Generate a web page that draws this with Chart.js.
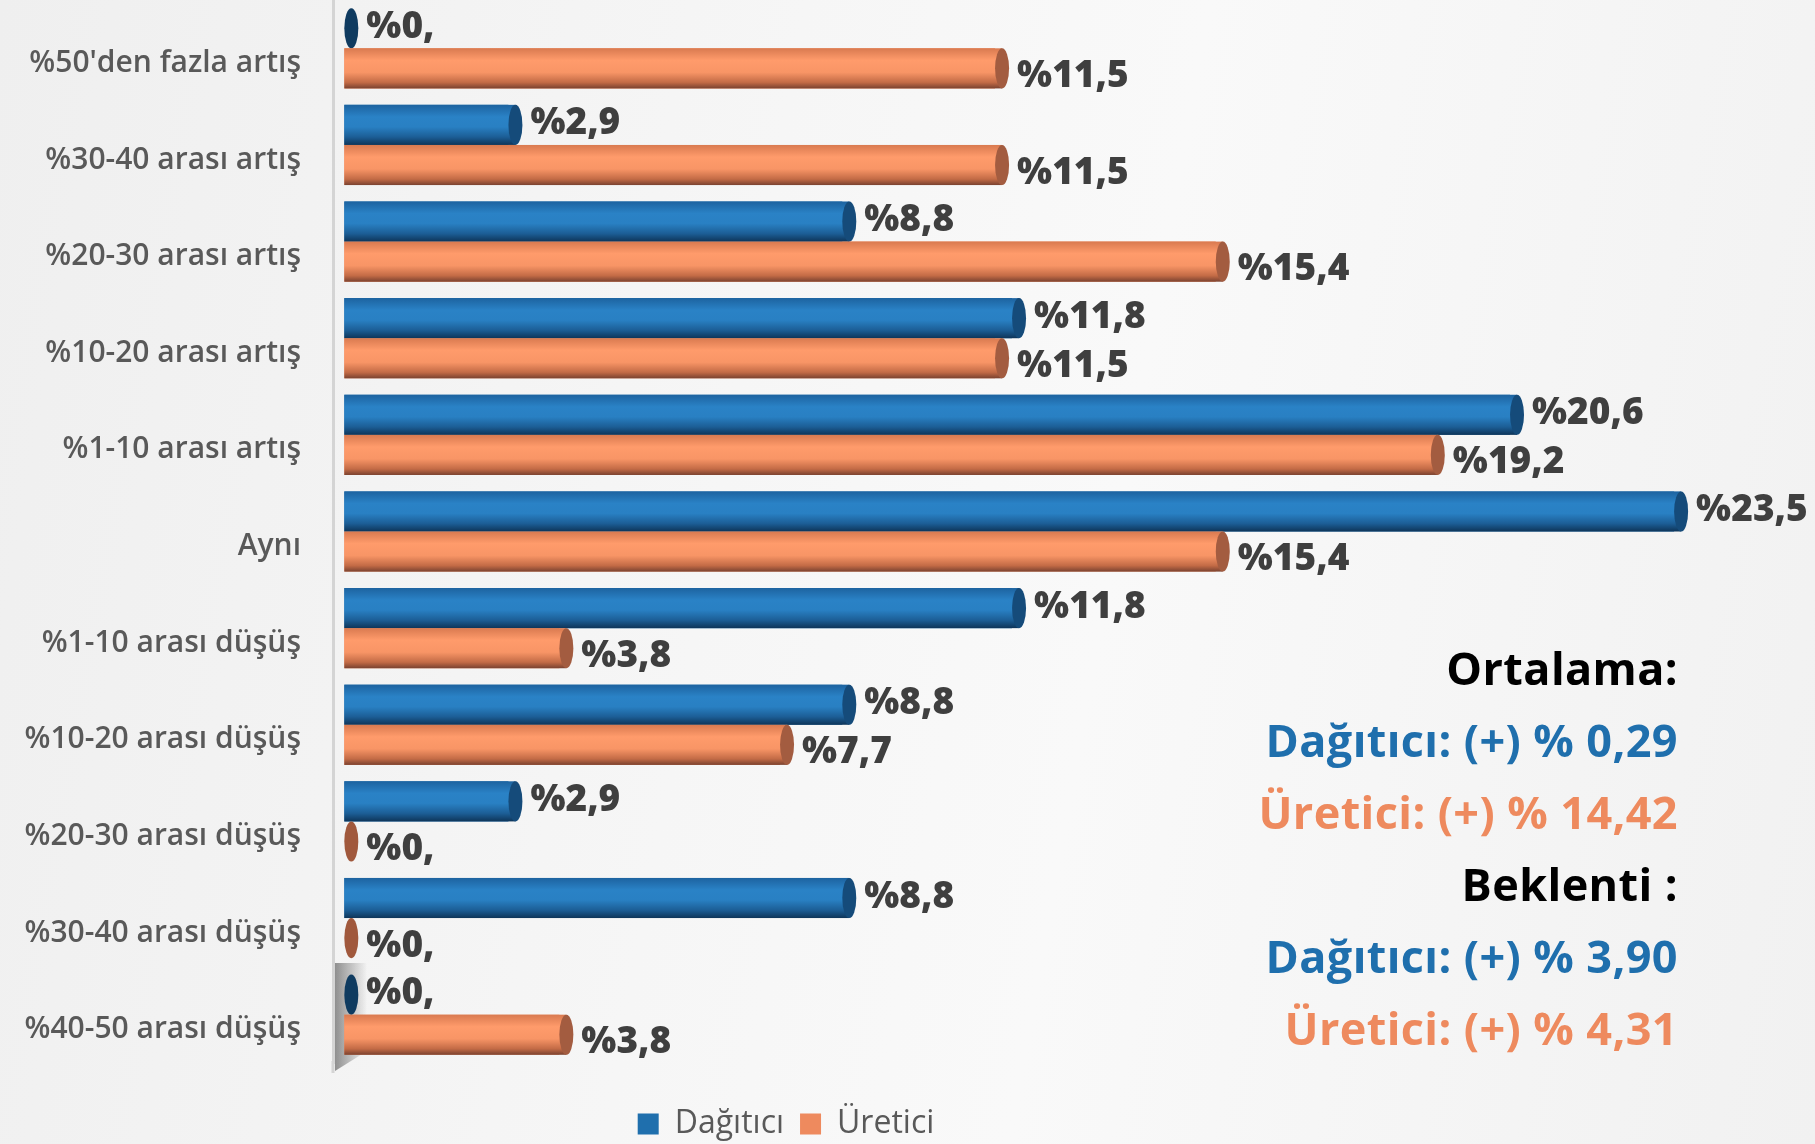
<!DOCTYPE html>
<html lang="tr">
<head>
<meta charset="utf-8">
<script src="https://cdn.jsdelivr.net/npm/chart.js@4.4.1/dist/chart.umd.min.js"></script>
<style>
    html, body { margin: 0; padding: 0; }
    body {
        width: 1815px;
        height: 1144px;
        overflow: hidden;
        background: linear-gradient(100deg, #efefef 0%, #f6f6f6 40%, #f9f9f9 60%, #f1f1f1 100%);
        font-family: "Open Sans", sans-serif;
    }
    #kutu { position: relative; width: 1815px; height: 1144px; }
    .ozet {
        position: absolute;
        right: 137px;
        top: 632px;
        text-align: right;
        font-weight: 700;
        font-size: 45px;
        line-height: 72px;
        letter-spacing: 0.4px;
    }
    .baslik { color: #000; }
    .mavi { color: #1f6fad; }
    .turuncu { color: #ee8a5e; }
</style>
</head>
<body>
<div id="kutu">
    <canvas id="grafik"></canvas>
    <div class="ozet">
        <div class="baslik">Ortalama:</div>
        <div class="mavi">Dağıtıcı: (+) % 0,29</div>
        <div class="turuncu">Üretici: (+) % 14,42</div>
        <div class="baslik">Beklenti :</div>
        <div class="mavi">Dağıtıcı: (+) % 3,90</div>
        <div class="turuncu">Üretici: (+) % 4,31</div>
    </div>
</div>
<script>
const kategoriler = [
    "%50'den fazla artış",
    "%30-40 arası artış",
    "%20-30 arası artış",
    "%10-20 arası artış",
    "%1-10 arası artış",
    "Aynı",
    "%1-10 arası düşüş",
    "%10-20 arası düşüş",
    "%20-30 arası düşüş",
    "%30-40 arası düşüş",
    "%40-50 arası düşüş"
];
const dagitici = [0, 2.9, 8.8, 11.8, 20.6, 23.5, 11.8, 8.8, 2.9, 8.8, 0];
const uretici = [11.5, 11.5, 15.4, 11.5, 19.2, 15.4, 3.8, 7.7, 0, 0, 3.8];

// renk tonlari: govde gradyani (ustten alta) ve uc kapagi
const tonlar = [
    {
        duz: "#1f6fad",
        govde: [[0, "#1d63a0"], [0.3, "#2a82c6"], [0.55, "#2980c3"], [0.8, "#1c5e96"], [1, "#0e3559"]],
        kapak: "#154b7a",
        sifir: "#0f3b60"
    },
    {
        duz: "#ee8a5e",
        govde: [[0, "#d97a50"], [0.3, "#ff9b6b"], [0.6, "#f89566"], [0.85, "#c36b46"], [1, "#7a4230"]],
        kapak: "#a35c40",
        sifir: "#a0583c"
    }
];
const etiketKayma = [-1, 8];

function formatla(v) {
    if (v === 0) return "%0,";
    return "%" + v.toFixed(1).replace(".", ",");
}

// sol alt kosedeki 3B zemin golgesi
const zeminGolgesi = {
    id: "zeminGolgesi",
    beforeDatasetsDraw(chart) {
        const { ctx, chartArea } = chart;
        const x0 = chartArea.left + 2;
        const alt = chartArea.bottom;
        ctx.save();
        const g = ctx.createLinearGradient(x0, 0, x0 + 32, 0);
        g.addColorStop(0, "rgba(60,60,60,0.55)");
        g.addColorStop(1, "rgba(60,60,60,0)");
        ctx.fillStyle = g;
        ctx.beginPath();
        ctx.moveTo(x0, alt - 100);
        ctx.lineTo(x0 + 32, alt - 100);
        ctx.lineTo(x0 + 32, alt - 12);
        ctx.lineTo(x0, alt + 8);
        ctx.closePath();
        ctx.fill();
        ctx.fillStyle = "#d4d4d4";
        ctx.fillRect(chartArea.left - 1.5, alt - 2, 3, 12);
        ctx.restore();
    }
};

const silindir = {
    id: "silindir",
    afterDatasetsDraw(chart) {
        const ctx = chart.ctx;
        chart.data.datasets.forEach((ds, i) => {
            const meta = chart.getDatasetMeta(i);
            const ton = tonlar[i];
            meta.data.forEach((bar, j) => {
                const { x, y, base, height } = bar.getProps(["x", "y", "base", "height"], true);
                const ust = y - height / 2;
                const alt = y + height / 2;
                const rx = 7;
                const son = x + rx;
                ctx.save();
                if (ds.data[j] > 0) {
                    const g = ctx.createLinearGradient(0, ust, 0, alt);
                    ton.govde.forEach(([p, c]) => g.addColorStop(p, c));
                    ctx.fillStyle = g;
                    ctx.fillRect(base, ust, son - base, height);
                    ctx.fillStyle = ton.kapak;
                } else {
                    ctx.fillStyle = ton.sifir;
                }
                ctx.beginPath();
                ctx.ellipse(son, y, rx, height / 2, 0, 0, Math.PI * 2);
                ctx.fill();
                ctx.restore();
            });
        });
    }
};

const degerEtiketleri = {
    id: "degerEtiketleri",
    afterDatasetsDraw(chart) {
        const ctx = chart.ctx;
        ctx.save();
        ctx.font = '800 37px "Open Sans"';
        ctx.fillStyle = "#3f3f3f";
        ctx.textBaseline = "middle";
        ctx.textAlign = "left";
        chart.data.datasets.forEach((ds, i) => {
            chart.getDatasetMeta(i).data.forEach((bar, j) => {
                ctx.fillText(formatla(ds.data[j]), bar.x + 22, bar.y + etiketKayma[i]);
            });
        });
        ctx.restore();
    }
};

// lejanti orijinaldeki gibi biraz sola al
const lejantYeri = {
    id: "lejantYeri",
    afterLayout(chart) {
        const lg = chart.legend;
        if (!lg) return;
        const yarim = lg.width / 2;
        lg.left = 786 - yarim;
        lg.right = 786 + yarim;
        lg.top += 29;
        lg.bottom += 29;
    }
};

const ctx = document.getElementById("grafik").getContext("2d");
const grafik = new Chart(ctx, {
    type: "bar",
    data: {
        labels: kategoriler,
        datasets: [
            { label: "Dağıtıcı", data: dagitici, backgroundColor: tonlar[0].duz },
            { label: "Üretici", data: uretici, backgroundColor: tonlar[1].duz }
        ]
    },
    options: {
        indexAxis: "y",
        responsive: true,
        maintainAspectRatio: false,
        animation: false,
        datasets: {
            bar: { categoryPercentage: 0.83, barPercentage: 1.0 }
        },
        layout: { padding: { left: 0, right: 56, top: 0, bottom: 23 } },
        plugins: {
            tooltip: { enabled: false },
            legend: {
                position: "bottom",
                labels: {
                    boxWidth: 21,
                    boxHeight: 21,
                    padding: 16,
                    color: "#595959",
                    font: { family: "Open Sans", size: 32 }
                }
            }
        },
        scales: {
            x: {
                display: false,
                min: -0.2,
                max: 25
            },
            y: {
                grid: { display: false, drawTicks: false },
                border: { display: true, color: "#d4d4d4", width: 3 },
                ticks: {
                    color: "#595959",
                    padding: 32,
                    labelOffset: 15,
                    font: { family: "Open Sans", size: 30, weight: "600" }
                },
                afterFit(scale) {
                    scale.width = 333;
                    scale.paddingTop = 0;
                    scale.paddingBottom = 0;
                }
            }
        }
    },
    plugins: [zeminGolgesi, silindir, degerEtiketleri, lejantYeri]
});
</script>
</body>
</html>
